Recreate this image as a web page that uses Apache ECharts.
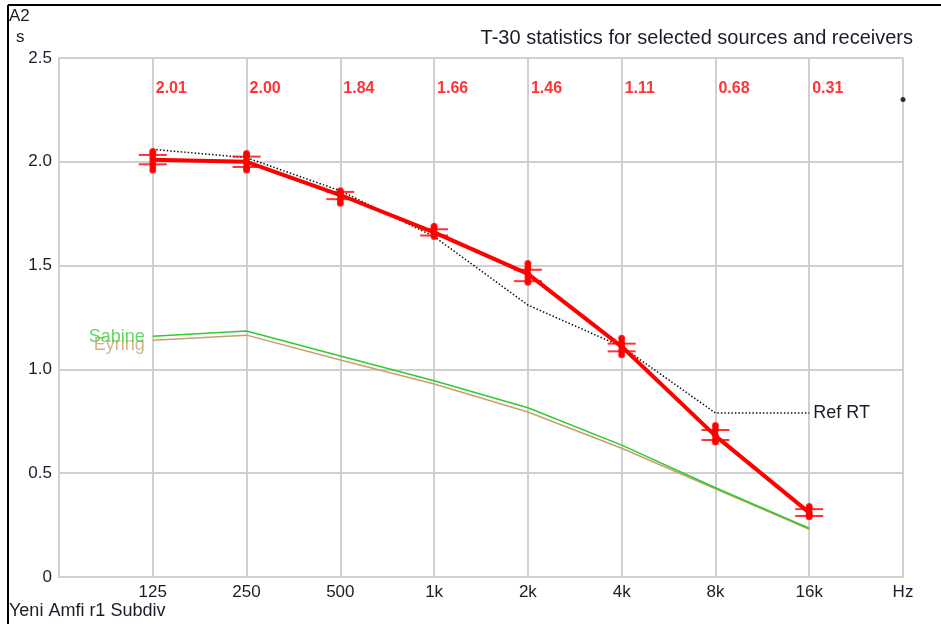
<!DOCTYPE html>
<html><head><meta charset="utf-8">
<script src="https://cdn.jsdelivr.net/npm/echarts@6/dist/echarts.min.js"></script>
<style>html,body{margin:0;padding:0;background:#fff}#c{width:941px;height:624px}</style>
</head><body><div id="c"></div>
<script>
var xTickLabels = ['', '125', '250', '500', '1k', '2k', '4k', '8k', '16k', 'Hz'];
var bands = ['125', '250', '500', '1k', '2k', '4k', '8k', '16k'];
var t30Mean = [2.01, 2.00, 1.84, 1.66, 1.46, 1.11, 0.68, 0.31];
var t30Upper = [2.033, 2.025, 1.855, 1.675, 1.48, 1.124, 0.708, 0.327];
var t30Lower = [1.988, 1.975, 1.82, 1.645, 1.425, 1.087, 0.66, 0.294];
var t30Individual = [
  [2.05, 2.04, 2.02, 2.00, 1.98, 1.96],
  [2.04, 2.03, 2.01, 1.99, 1.97, 1.96],
  [1.86, 1.85, 1.84, 1.82, 1.80],
  [1.69, 1.68, 1.66, 1.65, 1.64],
  [1.51, 1.49, 1.46, 1.44, 1.42],
  [1.15, 1.13, 1.11, 1.09, 1.07],
  [0.73, 0.71, 0.68, 0.66, 0.65],
  [0.34, 0.33, 0.31, 0.30, 0.29]
];
var refRT = [2.06, 2.02, 1.86, 1.64, 1.31, 1.11, 0.79, 0.79];
var sabine = [1.16, 1.185, 1.065, 0.945, 0.815, 0.635, 0.43, 0.235];
var eyring = [1.14, 1.165, 1.045, 0.93, 0.795, 0.62, 0.425, 0.23];
var labelRowY = 2.355;
var markerPoint = [9, 2.30];

var FONT = '"Liberation Sans", Arial, sans-serif';
var TXT = '#1c1c28';
function pts(arr) { return arr.map(function (v, i) { return [i + 1, v]; }); }

var indivData = [], rangeData = [], tickData = [];
t30Individual.forEach(function (vals, i) {
  vals.forEach(function (v) { indivData.push([i + 1, v]); });
  rangeData.push([i + 1, Math.min.apply(null, vals), Math.max.apply(null, vals)]);
  tickData.push([i + 1, t30Upper[i]]);
  tickData.push([i + 1, t30Lower[i]]);
});

var chart = echarts.init(document.getElementById('c'), null, { renderer: 'canvas' });
chart.setOption({
  animation: false,
  backgroundColor: '#fff',
  grid: { left: 59, right: 38, top: 58, bottom: 47 },
  xAxis: {
    type: 'value', min: 0, max: 9, interval: 1,
    axisLine: { show: true, lineStyle: { color: '#d0d0d0', width: 2 } },
    axisTick: { show: false },
    splitLine: { show: true, lineStyle: { color: '#d0d0d0', width: 2 } },
    axisLabel: {
      color: TXT, fontFamily: FONT, fontSize: 17, margin: 7,
      formatter: function (v) { return xTickLabels[Math.round(v)] || ''; }
    }
  },
  yAxis: {
    type: 'value', min: 0, max: 2.5, interval: 0.5,
    axisLine: { show: true, lineStyle: { color: '#d0d0d0', width: 2 } },
    axisTick: { show: false },
    splitLine: { show: true, lineStyle: { color: '#d0d0d0', width: 2 } },
    axisLabel: {
      color: TXT, fontFamily: FONT, fontSize: 17, margin: 7,
      formatter: function (v) { return v === 0 ? '0' : v.toFixed(1); }
    }
  },
  graphic: [
    { type: 'line', shape: { x1: 8, y1: 5, x2: 941, y2: 5 }, style: { stroke: '#000', lineWidth: 2 } },
    { type: 'line', shape: { x1: 8, y1: 5, x2: 8, y2: 624 }, style: { stroke: '#000', lineWidth: 2 } },
    { type: 'text', left: 9, top: 8, style: { text: 'A2', font: '17px ' + FONT, fill: TXT } },
    { type: 'text', left: 16, top: 29, style: { text: 's', font: '17px ' + FONT, fill: TXT } },
    { type: 'text', right: 28, top: 28, style: { text: 'T-30 statistics for selected sources and receivers', font: '20px ' + FONT, fill: TXT } },
    { type: 'text', left: 9, top: 602, style: { text: 'Yeni Amfi r1 Subdiv', font: '18px ' + FONT, fill: TXT } }
  ],
  series: [
    {
      name: 'Eyring', type: 'line', data: pts(eyring), symbol: 'none', z: 2,
      lineStyle: { color: '#c8a070', width: 1.5 }
    },
    {
      name: 'Sabine', type: 'line', data: pts(sabine), symbol: 'none', z: 3,
      lineStyle: { color: '#2ecc2e', width: 1.5 }
    },
    {
      name: 'curveLabels', type: 'scatter', symbolSize: 0, z: 4,
      data: [
        { value: [1, eyring[0]], label: { formatter: 'Eyring', color: '#c8a070', offset: [0, 5] } },
        { value: [1, sabine[0]], label: { formatter: 'Sabine', color: '#3ccf3c', offset: [0, 1] } }
      ],
      label: { show: true, position: 'left', distance: 8, fontFamily: FONT, fontSize: 18 }
    },
    {
      name: 'Ref RT', type: 'line', data: pts(refRT), symbol: 'none', z: 4,
      lineStyle: { color: '#111', width: 1.5, type: [1.5, 2] },
      endLabel: { show: true, formatter: 'Ref RT', color: TXT, fontFamily: FONT, fontSize: 18, distance: 4 }
    },
    {
      name: 'T30 mean', type: 'line', data: pts(t30Mean), symbol: 'none', z: 5,
      lineStyle: { color: '#ff0000', width: 4 }
    },
    {
      name: 'range', type: 'custom', data: rangeData, z: 6,
      renderItem: function (params, api) {
        var a = api.coord([api.value(0), api.value(1)]);
        var b = api.coord([api.value(0), api.value(2)]);
        return { type: 'line', shape: { x1: a[0], y1: a[1], x2: b[0], y2: b[1] },
          style: { stroke: '#ff0000', lineWidth: 5, lineCap: 'round' } };
      }
    },
    {
      name: 'individual', type: 'scatter', data: indivData, symbol: 'circle', symbolSize: 7, z: 7,
      itemStyle: { color: '#ff0000' }
    },
    {
      name: 'sd', type: 'scatter', data: tickData, symbol: 'rect', symbolSize: [28, 2], z: 7,
      itemStyle: { color: '#ff0000' }
    },
    {
      name: 'values', type: 'scatter', data: t30Mean.map(function (v, i) { return [i + 1, labelRowY, v]; }),
      symbolSize: 0, z: 8,
      label: { show: true, position: 'right', distance: 3, color: '#ff0000', fontFamily: FONT, fontSize: 16, fontWeight: 'bold',
        formatter: function (p) { return p.value[2].toFixed(2); } }
    },
    {
      name: 'marker', type: 'scatter', data: [markerPoint], symbolSize: 5, z: 8,
      itemStyle: { color: '#000' }
    }
  ]
});
</script>
</body></html>
